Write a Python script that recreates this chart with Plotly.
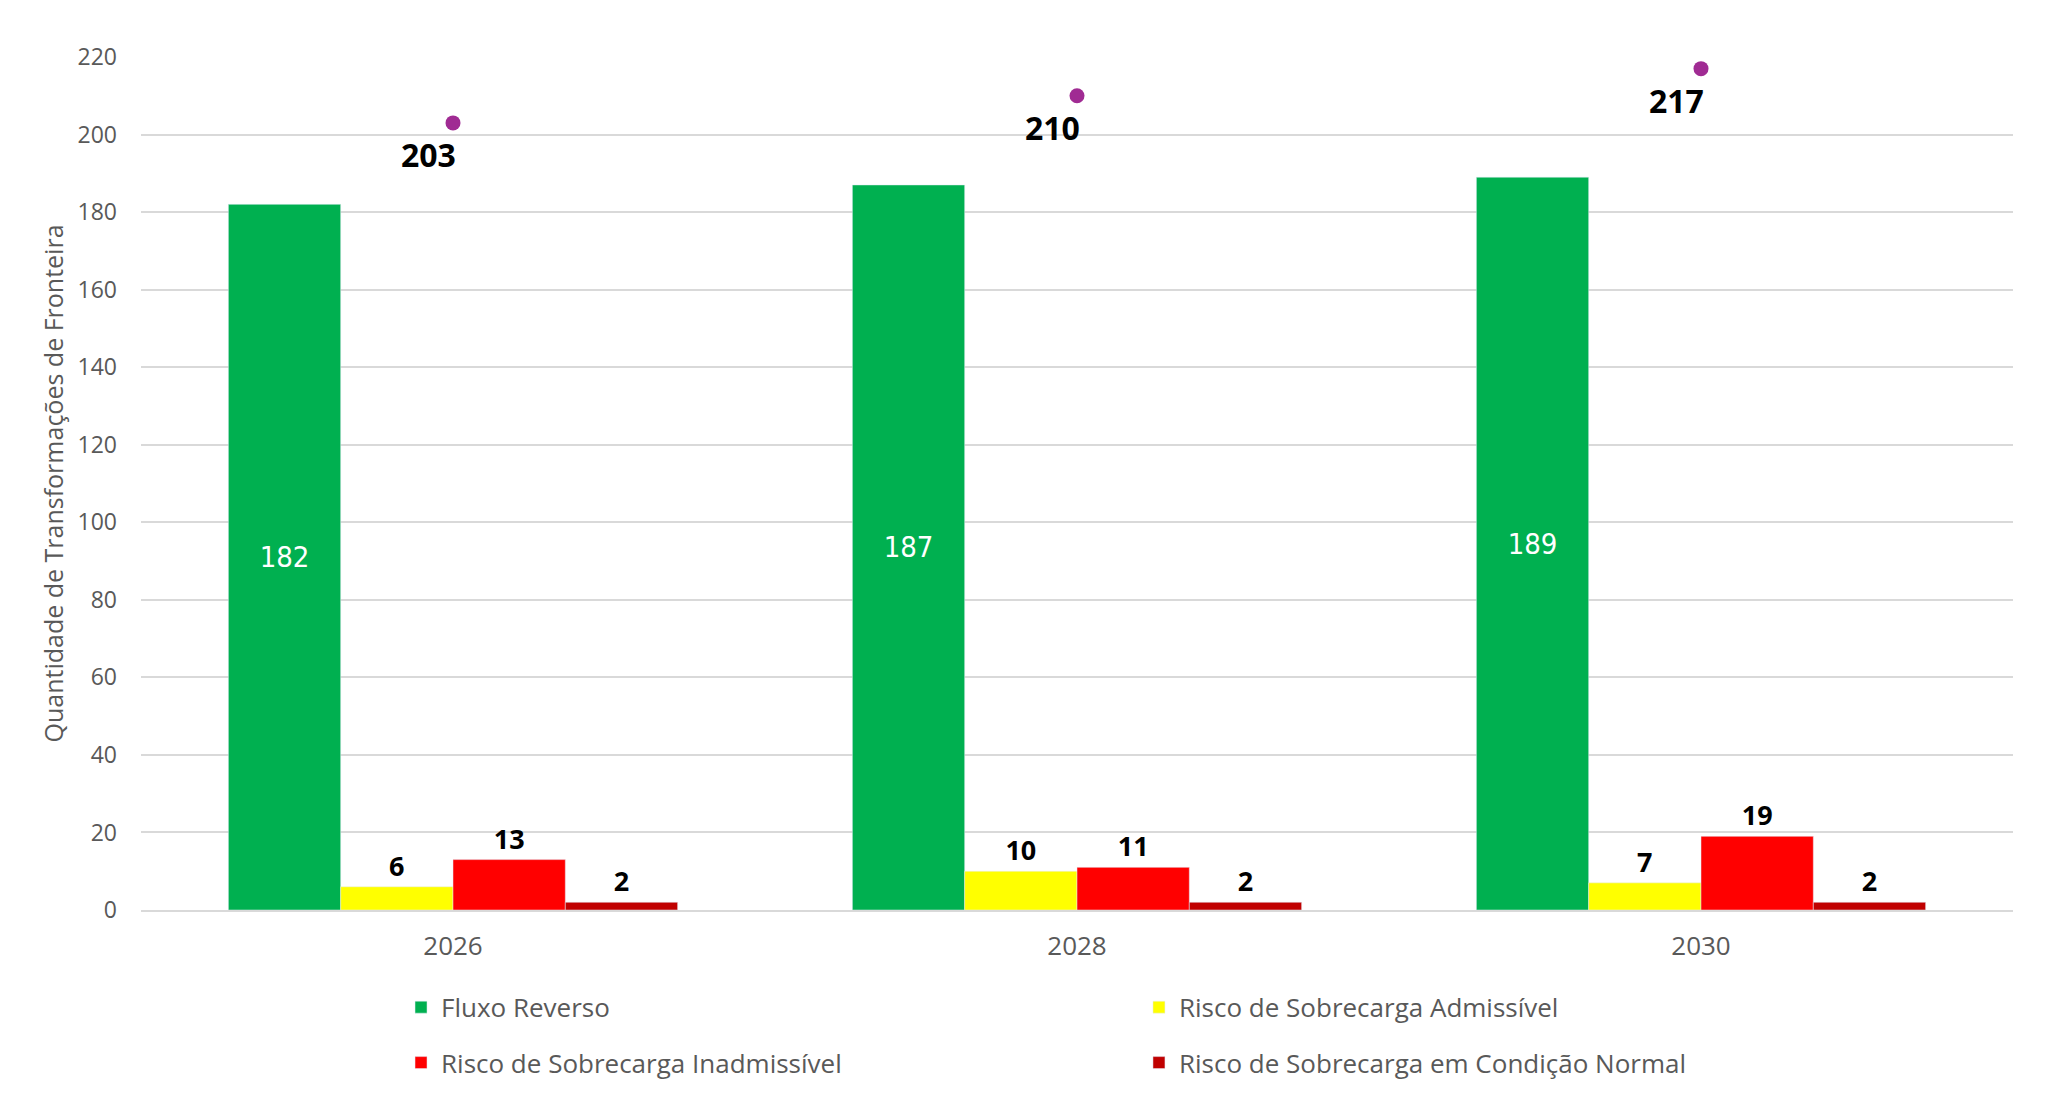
import plotly.graph_objects as go

# Dados do gráfico
anos = ['2026', '2028', '2030']
fluxo_reverso = [182, 187, 189]
risco_admissivel = [6, 10, 7]
risco_inadmissivel = [13, 11, 19]
risco_condicao_normal = [2, 2, 2]
total = [203, 210, 217]

fonte = 'Open Sans'
cinza = '#595959'
rotulo = dict(family=fonte, size=27, color='black', weight='bold')

fig = go.Figure()

fig.add_trace(go.Bar(
    x=anos, y=fluxo_reverso, name='Fluxo Reverso',
    marker_color='#00B050', legend='legend',
    text=fluxo_reverso, textposition='inside', insidetextanchor='middle',
    textfont=dict(family='DejaVu Sans Condensed', size=29, color='white'),
))
fig.add_trace(go.Bar(
    x=anos, y=risco_admissivel, name='Risco de Sobrecarga Admissível',
    marker_color='#FFFF00', legend='legend2',
    text=risco_admissivel, textposition='outside', textfont=rotulo,
))
fig.add_trace(go.Bar(
    x=anos, y=risco_inadmissivel, name='Risco de Sobrecarga Inadmissível',
    marker_color='#FF0000', legend='legend3',
    text=risco_inadmissivel, textposition='outside', textfont=rotulo,
))
fig.add_trace(go.Bar(
    x=anos, y=risco_condicao_normal, name='Risco de Sobrecarga em Condição Normal',
    marker_color='#C00000', legend='legend4',
    text=risco_condicao_normal, textposition='outside', textfont=rotulo,
))

# Total por ano (ponto roxo)
fig.add_trace(go.Scatter(
    x=anos, y=total, mode='markers',
    marker=dict(color='#A02B93', size=15),
    showlegend=False, cliponaxis=False,
))
# rótulo do total (índice da categoria no eixo)
for i, valor in enumerate(total):
    fig.add_annotation(
        x=i, y=valor, text=str(valor), showarrow=False,
        xshift=-25, yshift=-32,
        font=dict(family=fonte, size=32, color='black', weight='bold'),
    )


def legenda(x, y):
    return dict(orientation='h', x=x, y=y, xanchor='left', yanchor='middle',
                itemwidth=30, font=dict(family=fonte, size=26, color=cinza))


fig.update_layout(
    width=2051, height=1118,
    margin=dict(l=133, r=46, t=49, b=216),
    plot_bgcolor='white', paper_bgcolor='white',
    barmode='group', bargap=0.28, bargroupgap=0,
    font=dict(family=fonte, size=22, color=cinza),
    legend=legenda(0.1389, -0.114),
    legend2=legenda(0.5331, -0.114),
    legend3=legenda(0.1389, -0.179),
    legend4=legenda(0.5331, -0.179),
    xaxis=dict(
        type='category', range=[-0.5, 2.5],
        showgrid=False, showline=True, linecolor='#D9D9D9', linewidth=2,
        tickfont=dict(size=26, color=cinza), ticklabelstandoff=12,
    ),
    yaxis=dict(
        range=[0, 220], dtick=20, showgrid=True, gridcolor='#D9D9D9', gridwidth=2,
        zeroline=False, tickfont=dict(size=23, color=cinza), ticklabelstandoff=23,
        title=dict(text='Quantidade de Transformações de Fronteira',
                   font=dict(size=25, color=cinza), standoff=6),
    ),
)

fig.write_html('out.html')
